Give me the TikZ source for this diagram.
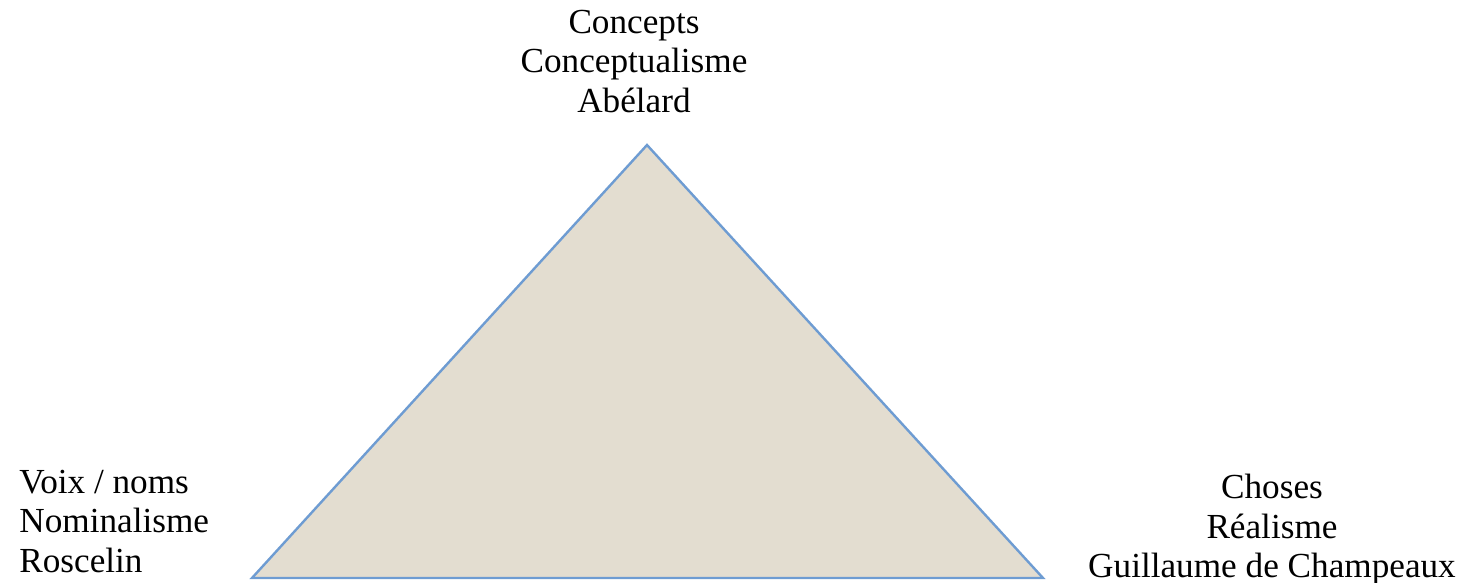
\documentclass[tikz,border=0pt]{standalone}
\usepackage{fontspec}
\setmainfont{Liberation Serif}
\definecolor{trifill}{HTML}{E3DDD0}
\definecolor{triline}{HTML}{6E9CD2}
\tikzset{
  lbl/.style={inner sep=0pt, font=\fontsize{17.6}{19.6}\selectfont, text=black},
}
\begin{document}
\begin{tikzpicture}[x=0.5pt,y=-0.5pt]
\useasboundingbox (0,0) rectangle (1464,583);
\coordinate (apex) at (647,145);
\coordinate (bl) at (252,578);
\coordinate (br) at (1043,578);
\draw[fill=trifill, draw=triline, line width=1.2pt, line join=miter] (apex) -- (bl) -- (br) -- cycle;
\node[lbl, align=center, anchor=north] (top) at (634,10) {Concepts\\Conceptualisme\\Abélard};
\node[lbl, align=left, anchor=north west] (left) at (19,470) {Voix / noms\\Nominalisme\\Roscelin};
\node[lbl, align=center, anchor=north] (right) at (1272,474) {Choses\\Réalisme\\Guillaume de Champeaux};
\end{tikzpicture}
\end{document}
